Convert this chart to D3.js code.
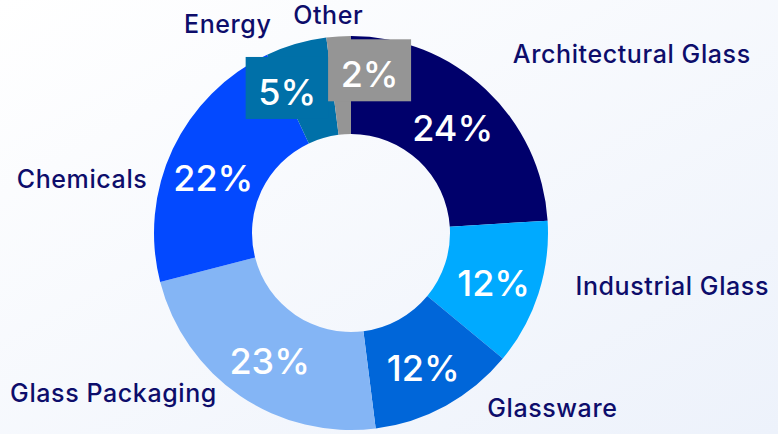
<!DOCTYPE html>
<html>
<head>
<meta charset="utf-8">
<script src="https://cdn.jsdelivr.net/npm/d3@7.9.0/dist/d3.min.js"></script>
<style>
  html, body { margin: 0; padding: 0; }
  body { width: 778px; height: 434px; overflow: hidden; }
  svg { display: block; font-family: Inter, "Noto Sans", sans-serif; }
</style>
</head>
<body>
<svg id="chart" width="778" height="434"></svg>
<script>
// segment data, clockwise from 12 o'clock
const categories = ['Architectural Glass', 'Industrial Glass', 'Glassware', 'Glass Packaging', 'Chemicals', 'Energy', 'Other'];
const shares     = [24, 12, 12, 23, 22, 5, 2];
const colors     = ['#00006b', '#00aaff', '#0066d9', '#84b5f5', '#0349ff', '#0070a8', '#959595'];

// label nudges (px) relative to the computed arc position
const nameNudge = [[1, 1, 'start'], [1, -11, 'start'], [23, -22, 'start'], [-2, -25, 'end'],
                   [9, 55, 'end'], [-14, 26, 'end'], [-8, 26, 'middle']];
const pctNudge  = [[-1, 0], [0, 0], [0, 0], [3, 0], [-2, 5], [-22, -1], [28, -13]];
const boxed     = [false, false, false, false, false, true, true];  // small slices get a colour box

const width = 778, height = 434;
const cx = 351, cy = 233;
const outerR = 197, innerR = 99;

const svg = d3.select('#chart');

const defs = svg.append('defs');
const grad = defs.append('linearGradient')
  .attr('id', 'bg').attr('x1', '0').attr('y1', '0').attr('x2', '1').attr('y2', '1');
grad.append('stop').attr('offset', '0%').attr('stop-color', '#ffffff');
grad.append('stop').attr('offset', '100%').attr('stop-color', '#edf2fb');

svg.append('rect').attr('width', width).attr('height', height).attr('fill', 'url(#bg)');

const data = categories.map((c, i) => ({ label: c, value: shares[i], color: colors[i], i }));

const pie = d3.pie().sort(null).value(d => d.value);
const arcs = pie(data);
const arcGen   = d3.arc().innerRadius(innerR).outerRadius(outerR);
const pctArc   = d3.arc().innerRadius(150).outerRadius(150);
const nameArc  = d3.arc().innerRadius(235).outerRadius(235);

const g = svg.append('g').attr('transform', `translate(${cx},${cy})`);

g.selectAll('path.slice')
  .data(arcs)
  .join('path')
  .attr('class', 'slice')
  .attr('d', arcGen)
  .attr('fill', d => d.data.color);

// percent labels
const pctPos = arcs.map((d, i) => {
  const [x, y] = pctArc.centroid(d);
  return [x + pctNudge[i][0], y + pctNudge[i][1]];
});

arcs.forEach((d, i) => {
  if (!boxed[i]) return;
  const [x, y] = pctPos[i];
  g.append('rect')
    .attr('x', x - 41.5).attr('y', y - 31)
    .attr('width', 83).attr('height', 62)
    .attr('fill', d.data.color);
});

g.selectAll('text.pct')
  .data(arcs)
  .join('text')
  .attr('class', 'pct')
  .attr('x', (d, i) => pctPos[i][0])
  .attr('y', (d, i) => pctPos[i][1] + 4)
  .attr('text-anchor', 'middle')
  .attr('dominant-baseline', 'central')
  .attr('fill', '#ffffff')
  .attr('font-size', 36)
  .attr('font-weight', 500)
  .text(d => `${d.data.value}%`);

// category names
g.selectAll('text.name')
  .data(arcs)
  .join('text')
  .attr('class', 'name')
  .attr('x', (d, i) => nameArc.centroid(d)[0] + nameNudge[i][0])
  .attr('y', (d, i) => nameArc.centroid(d)[1] + nameNudge[i][1])
  .attr('text-anchor', (d, i) => nameNudge[i][2])
  .attr('fill', '#0d0d6b')
  .attr('font-size', 25)
  .attr('font-weight', 500)
  .attr('letter-spacing', 0.6)
  .text(d => d.data.label);
</script>
</body>
</html>
